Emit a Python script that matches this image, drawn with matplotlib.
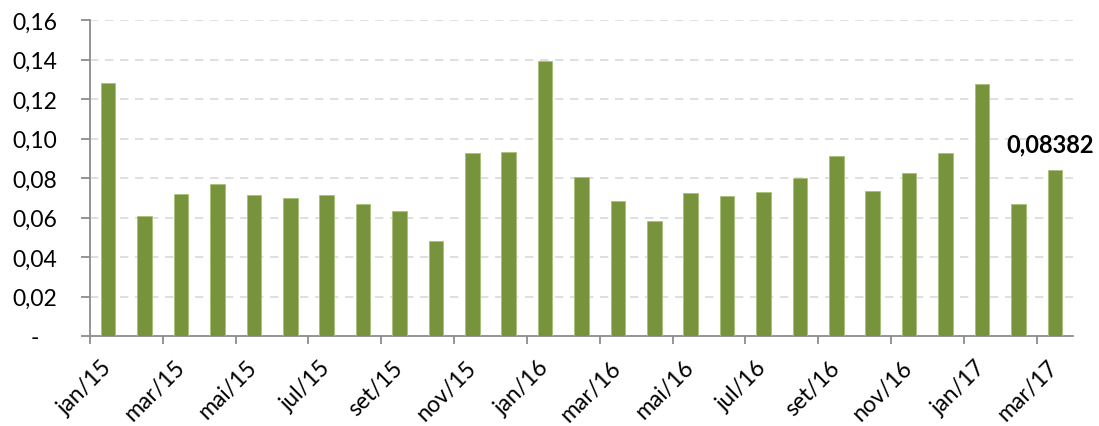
import matplotlib.pyplot as plt
import matplotlib.ticker as ticker

# monthly values jan/15 .. mar/17
months = ['jan/15', 'fev/15', 'mar/15', 'abr/15', 'mai/15', 'jun/15', 'jul/15', 'ago/15', 'set/15',
          'out/15', 'nov/15', 'dez/15', 'jan/16', 'fev/16', 'mar/16', 'abr/16', 'mai/16', 'jun/16',
          'jul/16', 'ago/16', 'set/16', 'out/16', 'nov/16', 'dez/16', 'jan/17', 'fev/17', 'mar/17']
values = [0.1279, 0.0606, 0.0719, 0.0771, 0.0714, 0.0697, 0.0716, 0.0668, 0.0633,
          0.0479, 0.0927, 0.0932, 0.1392, 0.0807, 0.0684, 0.0584, 0.0724, 0.0709,
          0.0729, 0.0800, 0.0910, 0.0734, 0.0827, 0.0925, 0.1276, 0.0670, 0.08382]
last_label = '0,08382'

plt.rcParams['font.family'] = ['Lato', 'DejaVu Sans']

fig = plt.figure(figsize=(10.99, 4.27), dpi=100)
ax = fig.add_axes([90/1099, 1 - 337/427, (1073 - 90)/1099, (337 - 21)/427])

# bars sit in the middle of each month slot, ticks at month starts
pos = [i + 0.5 for i in range(len(values))]
ax.bar(pos, values, width=0.4, color='#77933C', edgecolor='#A9C27A', linewidth=0.6, zorder=3)

ax.set_xlim(0, len(values))
ax.set_ylim(0, 0.16)

# tick marks every 2 months, labels (on invisible minor ticks) under the bars
ax.set_xticks(range(0, len(values), 2))
ax.set_xticklabels([])
ax.set_xticks(pos[::2], minor=True)
ax.set_xticklabels(months[::2], minor=True, rotation=45, ha='right', va='center',
                   rotation_mode='anchor', fontsize=16.5)
ax.tick_params(axis='x', which='major', length=6, width=1.3, color='#8c8c8c')
ax.tick_params(axis='x', which='minor', length=0, pad=20)

ax.yaxis.set_major_locator(ticker.MultipleLocator(0.02))
ax.yaxis.set_major_formatter(ticker.FuncFormatter(
    lambda v, p: '-   ' if abs(v) < 1e-9 else ('%.2f' % v).replace('.', ',')))
ax.tick_params(axis='y', labelsize=16.5, length=6.5, width=1.3, color='#8c8c8c', pad=17)

ax.grid(axis='y', linestyle=(0, (5, 4)), color='#d9d9d9', linewidth=1.2, zorder=0)

for s in ['top', 'right']:
    ax.spines[s].set_visible(False)
ax.spines['left'].set_color('#8c8c8c')
ax.spines['bottom'].set_color('#8c8c8c')
ax.spines['left'].set_linewidth(1.3)
ax.spines['bottom'].set_linewidth(1.3)

ax.annotate(last_label, (pos[-1], values[-1]), xytext=(-3, 11), textcoords='offset points',
            ha='center', va='bottom', fontsize=17, fontweight='bold')

fig.savefig('out.png', dpi=100)
